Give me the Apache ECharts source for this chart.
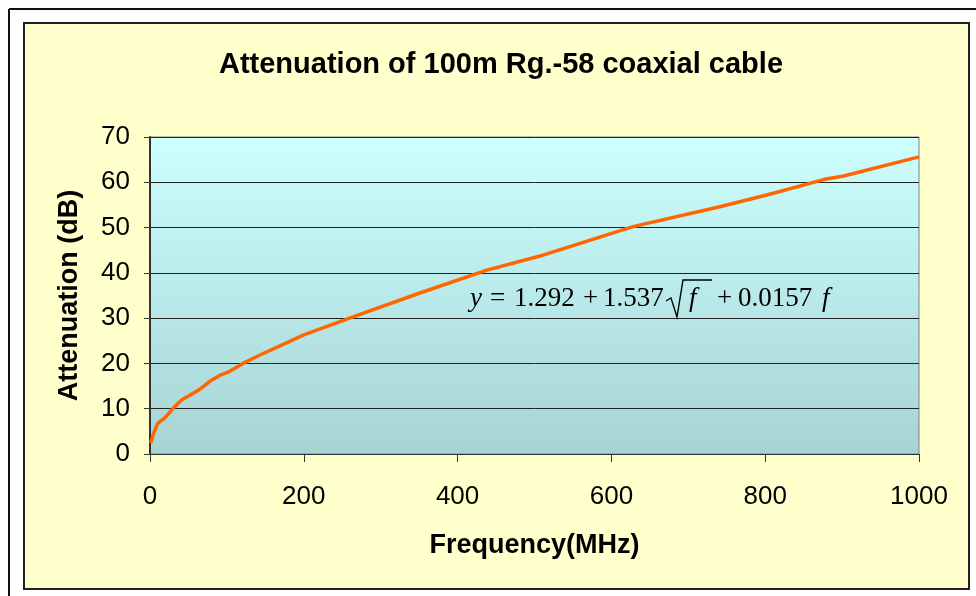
<!DOCTYPE html>
<html>
<head>
<meta charset="utf-8">
<script src="https://cdn.jsdelivr.net/npm/echarts@6/dist/echarts.min.js"></script>
<style>
  html, body { margin: 0; padding: 0; background: #fff; }
  #chart { width: 976px; height: 596px; }
</style>
</head>
<body>
<div id="chart"></div>
<script>
const freqMHz = [1, 4, 9, 11, 20, 30, 41, 54, 65, 80, 91, 102, 121, 141, 200, 264, 350, 438, 511, 628, 741, 802, 876, 902, 1000]
const attenDb = [2.4, 4.2, 6.4, 6.9, 8.1, 10.1, 11.9, 13.2, 14.3, 16.3, 17.4, 18.1, 20.0, 21.7, 26.3, 30.3, 35.5, 40.6, 43.9, 50.2, 54.6, 57.2, 60.6, 61.4, 65.6]
const yTicks = [0, 70, 10]
const xTicks = [0, 1000, 200]

const font = 'Liberation Sans, Arial, sans-serif'
const serif = 'Liberation Serif, Times New Roman, serif'

const chart = echarts.init(document.getElementById('chart'))

// one piece of the fitted-equation label
function eqText(x, text, italic) {
  return {
    type: 'text', z: 10, x: x, y: 299,
    style: {
      text: text,
      font: (italic ? 'italic ' : '') + '27px ' + serif,
      fill: '#000',
      verticalAlign: 'middle',
    },
  }
}

const option = {
  animation: false,
  backgroundColor: '#fff',
  title: {
    text: 'Attenuation of 100m Rg.-58 coaxial cable',
    left: 496,
    top: 45,
    textAlign: 'center',
    textStyle: { fontFamily: font, fontSize: 29, fontWeight: 'bold', color: '#000' },
  },
  grid: {
    left: 150, right: 57, top: 137, bottom: 142,
    show: true,
    borderColor: '#808080',
    borderWidth: 1,
    backgroundColor: new echarts.graphic.LinearGradient(0, 0, 0, 1, [
      { offset: 0, color: '#CCFFFF' },
      { offset: 1, color: '#A8D3D3' },
    ]),
  },
  xAxis: {
    type: 'value',
    min: xTicks[0], max: xTicks[1], interval: xTicks[2],
    name: 'Frequency(MHz)',
    nameLocation: 'middle',
    nameGap: 78,
    nameTextStyle: { fontFamily: font, fontSize: 27, fontWeight: 'bold', color: '#000' },
    axisLine: { lineStyle: { color: '#333', width: 1 } },
    axisTick: { length: 8, lineStyle: { color: '#333' } },
    axisLabel: { margin: 30, fontFamily: font, fontSize: 26, color: '#000', formatter: v => String(v) },
    splitLine: { show: false },
  },
  yAxis: {
    type: 'value',
    min: yTicks[0], max: yTicks[1], interval: yTicks[2],
    name: 'Attenuation (dB)',
    nameLocation: 'middle',
    nameGap: 67,
    nameTextStyle: { fontFamily: font, fontSize: 27, fontWeight: 'bold', color: '#000' },
    axisLine: { lineStyle: { color: '#333', width: 2 } },
    axisTick: { length: 6, lineStyle: { color: '#333' } },
    axisLabel: { margin: 20, fontFamily: font, fontSize: 26, color: '#000' },
    splitLine: { lineStyle: { color: '#222', width: 1 } },
  },
  series: [{
    type: 'line',
    data: freqMHz.map((f, i) => [f, attenDb[i]]),
    showSymbol: false,
    lineStyle: { color: '#FF6600', width: 3.5 },
    z: 5,
  }],
  graphic: [
    // outer page frame
    { type: 'line', z: -20, shape: { x1: 9, y1: 9, x2: 9, y2: 596 }, style: { stroke: '#111', lineWidth: 2 } },
    { type: 'line', z: -20, shape: { x1: 9, y1: 9, x2: 976, y2: 9 }, style: { stroke: '#111', lineWidth: 2 } },
    // chart area box
    { type: 'rect', z: -10, shape: { x: 24, y: 23, width: 945, height: 566 }, style: { fill: '#FFFFCC', stroke: '#222', lineWidth: 2 } },
    // fitted equation
    eqText(470, 'y', true),
    eqText(490, '=', false),
    eqText(514, '1.292', false),
    eqText(583, '+', false),
    eqText(603, '1.537', false),
    {
      type: 'polyline', z: 10,
      shape: { points: [[666, 301], [671, 298], [677, 317], [683, 280], [712, 280]] },
      style: { stroke: '#000', lineWidth: 1.4, fill: null },
    },
    eqText(689, 'f', true),
    eqText(717, '+', false),
    eqText(738, '0.0157', false),
    eqText(822, 'f', true),
  ],
}

chart.setOption(option)
window.addEventListener('resize', () => chart.resize())
</script>
</body>
</html>
